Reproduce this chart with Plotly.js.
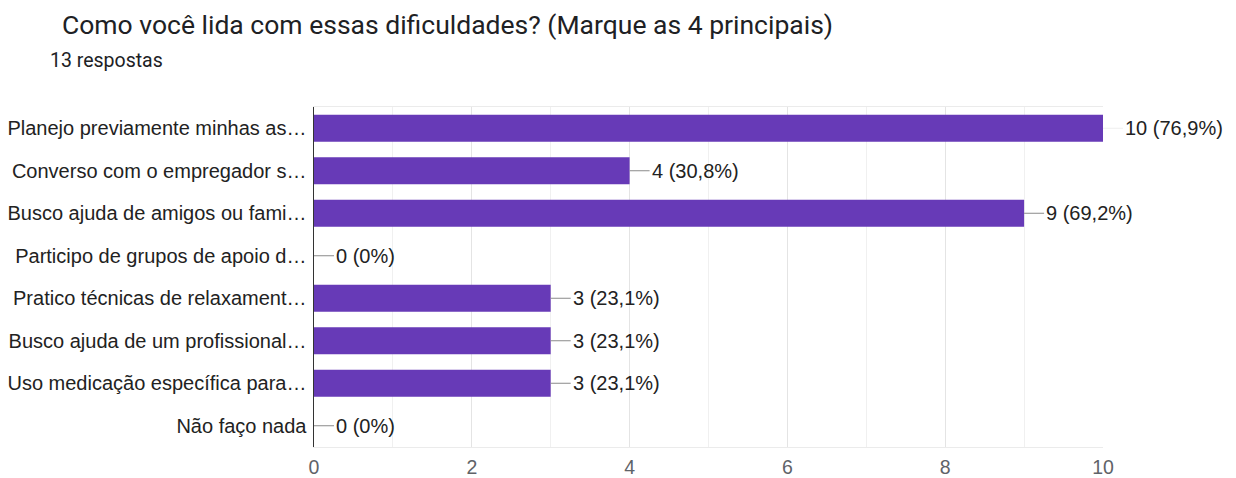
<!DOCTYPE html>
<html><head><meta charset="utf-8">
<script src="https://cdn.plot.ly/plotly-3.0.1.min.js"></script>
<style>html,body{margin:0;padding:0;background:#fff;}#chart{width:1236px;height:478px;}</style>
</head><body><div id="chart"></div>
<script>
const categories = [
  "Planejo previamente minhas as…",
  "Converso com o empregador s…",
  "Busco ajuda de amigos ou fami…",
  "Participo de grupos de apoio d…",
  "Pratico técnicas de relaxament…",
  "Busco ajuda de um profissional…",
  "Uso medicação específica para…",
  "Não faço nada"
];
const counts = [10, 4, 9, 0, 3, 3, 3, 0];
const percentLabels = ["76,9%", "30,8%", "69,2%", "0%", "23,1%", "23,1%", "23,1%", "0%"];
const titleText = "Como você lida com essas dificuldades? (Marque as 4 principais)";
const subtitleText = "13 respostas";
const xTicks = [0, 2, 4, 6, 8, 10];

const W = 1236, H = 478;
const mL = 314, mR = 133, mT = 107, mB = 31;
const plotW = W - mL - mR;
const xMax = 10;

const annotations = counts.map((v, i) => ({
  x: v, y: categories[i], xref: 'x', yref: 'y',
  text: v + " (" + percentLabels[i] + ")",
  showarrow: true, arrowhead: 0, arrowwidth: 1,
  arrowcolor: v >= xMax ? '#eeeeee' : '#8a8a8a',
  ax: 20, ay: 0, standoff: 0, startstandoff: 0,
  xanchor: 'left', yanchor: 'middle',
  font: {family: 'Liberation Sans, Arial, sans-serif', size: 20, color: '#222'}
}));
annotations.push({
  text: subtitleText, xref: 'paper', yref: 'paper',
  x: (48 - mL) / plotW, xanchor: 'left',
  y: 1 + (mT - 60) / (H - mT - mB), yanchor: 'middle',
  showarrow: false,
  font: {family: 'Roboto, sans-serif', size: 19.5, color: '#202124'}
});

const trace = {
  type: 'bar', orientation: 'h',
  x: counts, y: categories,
  marker: {color: '#673ab7'},
  hoverinfo: 'none'
};

const layout = {
  width: W, height: H,
  margin: {l: mL, r: mR, t: mT, b: mB, pad: 0},
  paper_bgcolor: '#fff', plot_bgcolor: '#fff',
  showlegend: false,
  bargap: 0.36,
  title: {
    text: titleText, xref: 'container', yref: 'container',
    x: 62 / W, xanchor: 'left', y: 1 - 25 / H, yanchor: 'middle',
    font: {family: 'Roboto, sans-serif', size: 26.5, color: '#202124'}
  },
  xaxis: {
    range: [0, xMax], tickvals: xTicks, ticktext: xTicks.map(String),
    showgrid: true, gridcolor: '#e4e4e4', gridwidth: 1,
    minor: {dtick: 1, showgrid: true, gridcolor: '#f0f0f0', gridwidth: 1},
    zeroline: false, showline: true, mirror: true, linecolor: '#ebebeb', linewidth: 1,
    ticks: 'outside', ticklen: 3, tickcolor: 'rgba(0,0,0,0)',
    tickfont: {family: 'Liberation Sans, Arial, sans-serif', size: 19.5, color: '#5f6368'},
    fixedrange: true
  },
  yaxis: {
    autorange: 'reversed', type: 'category',
    showgrid: false, zeroline: false,
    showline: true, linecolor: '#333', linewidth: 1.5,
    ticks: 'outside', ticklen: 2, tickcolor: 'rgba(0,0,0,0)',
    tickfont: {family: 'Liberation Sans, Arial, sans-serif', size: 20, color: '#222'},
    fixedrange: true
  },
  annotations: annotations
};

Plotly.newPlot('chart', [trace], layout, {displayModeBar: false, staticPlot: true});
</script></body></html>
